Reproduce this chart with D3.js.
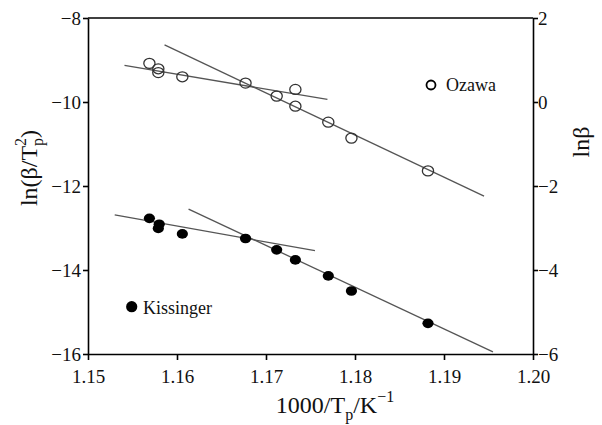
<!DOCTYPE html>
<html>
<head>
<meta charset="utf-8">
<script src="https://cdn.jsdelivr.net/npm/d3@7"></script>
<style>
  body { margin: 0; background: #fff; }
  svg { display: block; }
  svg text { font-family: "Liberation Serif", "Times New Roman", serif; }
  .axis path, .axis line { stroke: #000; stroke-width: 1.6; }
  .axis text { font-size: 19px; fill: #111; }
</style>
</head>
<body>
<svg id="chart" width="602" height="425"></svg>
<script>
// x: 1000/Tp (K^-1)
const ozawaX = [1.1569, 1.1579, 1.1579, 1.1606, 1.1677, 1.1733, 1.1712, 1.1733, 1.1770, 1.1796, 1.1882];
// Ozawa: ln(beta), right axis
const ozawaY = [0.92, 0.79, 0.70, 0.60, 0.45, 0.30, 0.14, -0.10, -0.48, -0.86, -1.64];

const kissX = [1.1569, 1.1580, 1.1579, 1.1606, 1.1677, 1.1712, 1.1733, 1.1770, 1.1796, 1.1882];
// Kissinger: ln(beta/Tp^2), left axis
const kissY = [-12.77, -12.91, -13.01, -13.14, -13.25, -13.52, -13.76, -14.14, -14.50, -15.27];

// fitted lines, [x, y] end points
const ozawaFitLow  = [[1.1541, 0.87], [1.1769, 0.06]];
const ozawaFitHigh = [[1.1586, 1.36], [1.1945, -2.24]];
const kissFitLow   = [[1.1530, -12.69], [1.1755, -13.54]];
const kissFitHigh  = [[1.1613, -12.55], [1.1955, -15.95]];

const xTicks = [1.15, 1.16, 1.17, 1.18, 1.19, 1.20];
const leftTicks = [-16, -14, -12, -10, -8];
const rightTicks = [-6, -4, -2, 0, 2];

const serif = '"Liberation Serif", "Times New Roman", serif';
const m = { left: 88, right: 533, top: 18, bottom: 354 };

const svg = d3.select('#chart');

const x = d3.scaleLinear().domain([1.15, 1.20]).range([m.left, m.right]);
const yL = d3.scaleLinear().domain([-16, -8]).range([m.bottom, m.top]);
const yR = d3.scaleLinear().domain([-6, 2]).range([m.bottom, m.top]);

const line = d3.line();

// fit lines
const fitG = svg.append('g')
  .attr('fill', 'none')
  .attr('stroke', '#555')
  .attr('stroke-width', 1.3);

[ozawaFitLow, ozawaFitHigh].forEach(d => {
  fitG.append('path').attr('d', line(d.map(p => [x(p[0]), yR(p[1])])));
});
[kissFitLow, kissFitHigh].forEach(d => {
  fitG.append('path').attr('d', line(d.map(p => [x(p[0]), yL(p[1])])));
});

// Ozawa points (open)
svg.append('g').selectAll('ellipse')
  .data(ozawaX.map((v, i) => [v, ozawaY[i]]))
  .enter().append('ellipse')
  .attr('cx', d => x(d[0]))
  .attr('cy', d => yR(d[1]))
  .attr('rx', 5.6)
  .attr('ry', 5)
  .attr('fill', 'none')
  .attr('stroke', '#333')
  .attr('stroke-width', 1.3);

// Kissinger points (filled)
svg.append('g').selectAll('ellipse')
  .data(kissX.map((v, i) => [v, kissY[i]]))
  .enter().append('ellipse')
  .attr('cx', d => x(d[0]))
  .attr('cy', d => yL(d[1]))
  .attr('rx', 5.6)
  .attr('ry', 4.8)
  .attr('fill', '#000');

// axes
svg.append('g').attr('class', 'axis')
  .attr('transform', `translate(0,${m.bottom})`)
  .call(d3.axisBottom(x).tickValues(xTicks).tickFormat(d3.format('.2f'))
    .tickSize(6).tickSizeOuter(0).tickPadding(10))
  .attr('font-family', serif).attr('font-size', 19);

svg.append('g').attr('class', 'axis')
  .attr('transform', `translate(${m.left},0)`)
  .call(d3.axisLeft(yL).tickValues(leftTicks).tickFormat(d3.format('d'))
    .tickSize(5).tickSizeOuter(0).tickPadding(2))
  .attr('font-family', serif).attr('font-size', 19);

svg.append('g').attr('class', 'axis')
  .attr('transform', `translate(${m.right},0)`)
  .call(d3.axisRight(yR).tickValues(rightTicks).tickFormat(d3.format('d'))
    .tickSize(5).tickSizeOuter(0).tickPadding(0))
  .attr('font-family', serif).attr('font-size', 19);

// top border
svg.append('line')
  .attr('x1', m.left).attr('x2', m.right)
  .attr('y1', m.top).attr('y2', m.top)
  .attr('stroke', '#000').attr('stroke-width', 1.6);

// axis titles
const xt = svg.append('text')
  .attr('x', 335).attr('y', 413)
  .attr('text-anchor', 'middle')
  .attr('font-family', serif)
  .attr('font-size', 24).attr('fill', '#111');
xt.append('tspan').text('1000/T');
xt.append('tspan').attr('font-size', 16).attr('dy', 7).text('p');
xt.append('tspan').attr('dy', -7).text('/K');
xt.append('tspan').attr('font-size', 16).attr('dy', -11).text('\u22121');

const yt = svg.append('text')
  .attr('transform', 'translate(37,168) rotate(-90)')
  .attr('text-anchor', 'middle')
  .attr('font-family', serif)
  .attr('font-size', 24).attr('fill', '#111');
yt.append('tspan').text('ln(\u03b2/T');
yt.append('tspan').attr('font-size', 16).attr('dy', 6).text('p');
yt.append('tspan').attr('font-size', 16).attr('dx', -8).attr('dy', -17).text('2');
yt.append('tspan').attr('dy', 11).text(')');

svg.append('text')
  .attr('transform', 'translate(589,142) rotate(-90)')
  .attr('text-anchor', 'middle')
  .attr('font-family', serif)
  .attr('font-size', 24).attr('fill', '#111')
  .text('ln\u03b2');

// legends
svg.append('circle')
  .attr('cx', 431).attr('cy', 85).attr('r', 4.5)
  .attr('fill', 'none').attr('stroke', '#000').attr('stroke-width', 1.8);
svg.append('text')
  .attr('x', 446).attr('y', 91)
  .attr('font-family', serif)
  .attr('font-size', 18).attr('fill', '#111')
  .text('Ozawa');

svg.append('circle')
  .attr('cx', 131.7).attr('cy', 306.7).attr('r', 5.6)
  .attr('fill', '#000');
svg.append('text')
  .attr('x', 143).attr('y', 314)
  .attr('font-family', serif)
  .attr('font-size', 18).attr('fill', '#111')
  .text('Kissinger');
</script>
</body>
</html>
